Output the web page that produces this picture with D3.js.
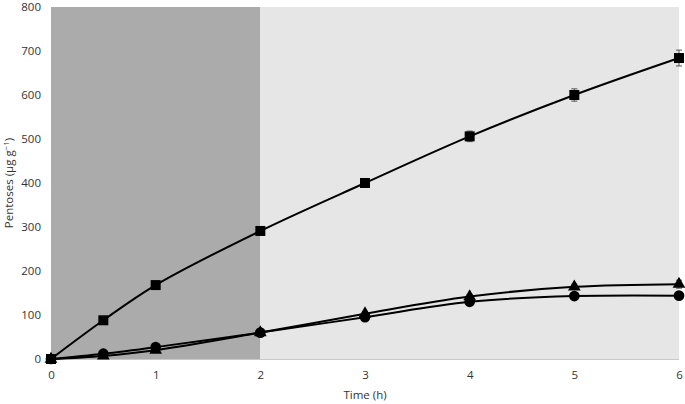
<!DOCTYPE html>
<html><head><meta charset="utf-8">
<script src="https://cdn.jsdelivr.net/npm/d3@7"></script>
<style>body{margin:0;background:#fff}svg{display:block}text{font-family:"Open Sans",sans-serif;fill:#333}</style>
</head><body><svg id="c" width="685" height="404"></svg>
<script>
const times = [0, 0.5, 1, 2, 3, 4, 5, 6];
const squareVals = [0, 88, 168, 291, 400, 506, 600, 684];
const squareErr = [0, 3, 4, 5, 9, 12, 14, 18];
const triangleVals = [0, 7, 20, 60, 103, 142, 164, 170];
const triangleErr = [0, 1, 2, 3, 4, 5, 6, 9];
const circleVals = [0, 12, 27, 60, 95, 130, 143, 144];
const circleErr = [0, 1, 2, 3, 4, 4, 4, 4];
const xTicks = [0, 1, 2, 3, 4, 5, 6];
const yTicks = [0, 100, 200, 300, 400, 500, 600, 700, 800];
const shadedUntil = 2;

const svg = d3.select("#c");
const x = d3.scaleLinear().domain([0, 6]).range([51, 679]);
const y = d3.scaleLinear().domain([0, 800]).range([359, 7]);
const FS = 11.5;

svg.append("rect").attr("x", x(0)).attr("y", y(800)).attr("width", x(shadedUntil) - x(0)).attr("height", y(0) - y(800)).attr("fill", "#ababab");
svg.append("rect").attr("x", x(shadedUntil)).attr("y", y(800)).attr("width", x(6) - x(shadedUntil)).attr("height", y(0) - y(800)).attr("fill", "#e6e6e6");
svg.append("line").attr("x1", x(0)).attr("x2", x(6)).attr("y1", y(0) + 0.5).attr("y2", y(0) + 0.5).attr("stroke", "#c8c8c8").attr("stroke-width", 1);

const yAxis = svg.append("g").attr("transform", `translate(${x(0)},0)`)
  .call(d3.axisLeft(y).tickValues(yTicks).tickFormat(d3.format("d")).tickSize(0).tickPadding(10));
yAxis.select(".domain").remove();
yAxis.selectAll("text").attr("font-size", FS).attr("fill", "#333").style("font-family", "Open Sans");

const xAxis = svg.append("g").attr("transform", `translate(0,${y(0)})`)
  .call(d3.axisBottom(x).tickValues(xTicks).tickFormat(d3.format("d")).tickSize(0).tickPadding(12));
xAxis.select(".domain").remove();
xAxis.selectAll("text").attr("font-size", FS).attr("fill", "#333").style("font-family", "Open Sans");

svg.append("text").attr("x", (x(0) + x(6)) / 2).attr("y", 399).attr("text-anchor", "middle").attr("font-size", FS).text("Time (h)");
const yt = svg.append("text").attr("transform", `translate(13,${(y(0) + y(800)) / 2}) rotate(-90)`).attr("text-anchor", "middle").attr("font-size", FS);
yt.append("tspan").text("Pentoses (μg g");
yt.append("tspan").attr("dy", -4).attr("font-size", 8).text("−1");
yt.append("tspan").attr("dy", 4).text(")");

const line = d3.line().x((d, i) => x(times[i])).y(d => y(d)).curve(d3.curveCatmullRom.alpha(0.5));

const series = [
  {vals: squareVals, err: squareErr, shape: d3.symbolSquare, size: 100},
  {vals: triangleVals, err: triangleErr, shape: d3.symbolTriangle, size: 70},
  {vals: circleVals, err: circleErr, shape: d3.symbolCircle, size: 90}
];

series.forEach(s => {
  const g = svg.append("g").attr("stroke", "#555").attr("stroke-width", 1);
  s.vals.forEach((v, i) => {
    if (!s.err[i]) return;
    const cx = x(times[i]);
    g.append("line").attr("x1", cx).attr("x2", cx).attr("y1", y(v - s.err[i])).attr("y2", y(v + s.err[i]));
    [v - s.err[i], v + s.err[i]].forEach(e => g.append("line").attr("x1", cx - 3).attr("x2", cx + 3).attr("y1", y(e)).attr("y2", y(e)));
  });
  svg.append("path").attr("d", line(s.vals)).attr("fill", "none").attr("stroke", "#000").attr("stroke-width", 2);
  svg.append("g").selectAll("path").data(s.vals).join("path")
    .attr("transform", (d, i) => `translate(${x(times[i])},${y(d)})`)
    .attr("d", d3.symbol().type(s.shape).size(s.size)).attr("fill", "#000");
});
</script></body></html>
